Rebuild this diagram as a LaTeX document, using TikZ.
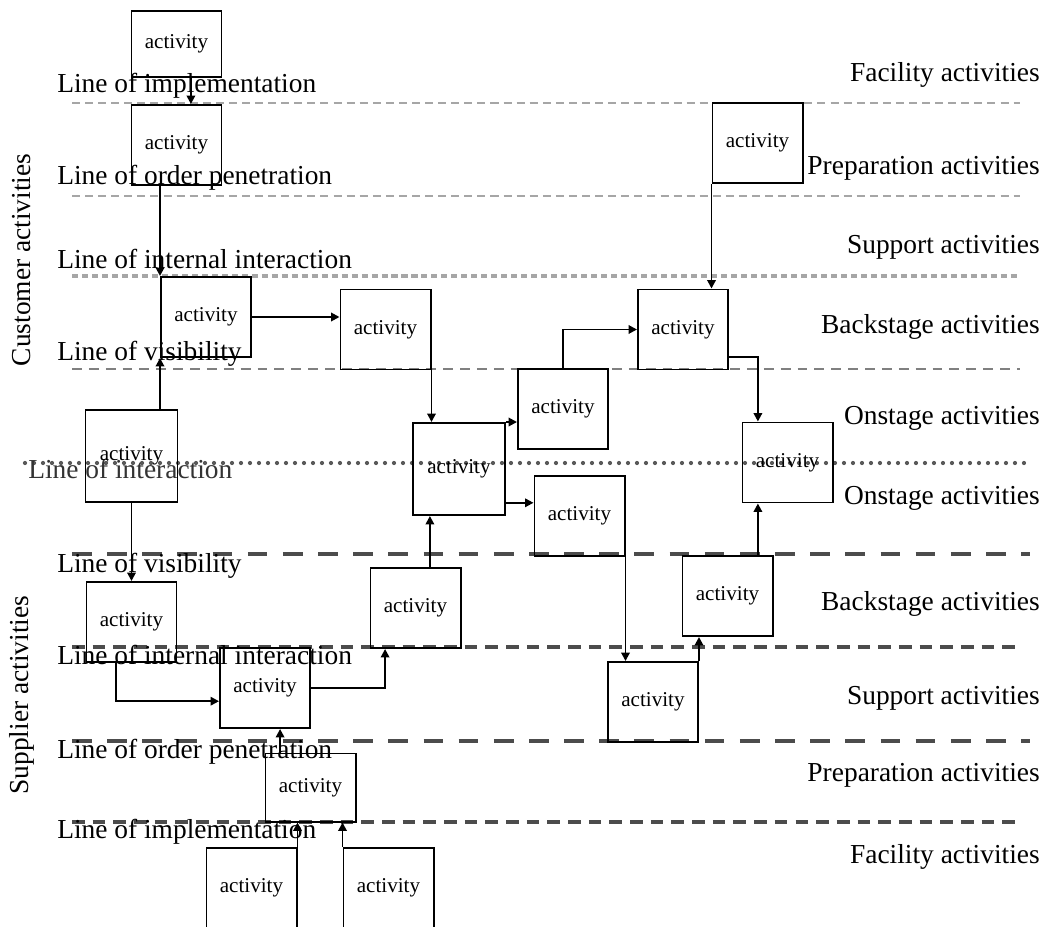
\documentclass[tikz,border=0pt]{standalone}
\usepackage{fontspec}
\setmainfont{Liberation Serif}
\usetikzlibrary{arrows.meta, positioning}

\tikzstyle{activity} = [rectangle,
draw=black,
line width=1.4pt,
minimum width=2.25cm,
minimum height=2cm,
inner sep=0pt,
font=\fontsize{15}{18}\selectfont]
\tikzstyle{lineof} = [anchor=base west,
inner sep=0pt,
font=\fontsize{19.5}{23}\selectfont]
\tikzstyle{layer} = [anchor=base east,
inner sep=0pt,
font=\fontsize{19.5}{23}\selectfont]
\tikzstyle{side} = [rotate=90,
inner sep=0pt,
font=\fontsize{19.5}{23}\selectfont]
\tikzstyle{flow} = [->, line width=1.4pt]
\tikzstyle{lightline} = [draw=black!35, line width=1.6pt, dash pattern=on 5.7pt off 3.6pt]
\tikzstyle{squareline} = [draw=black!35, line width=2.3pt, dash pattern=on 4.3pt off 2.8pt]
\tikzstyle{greyline} = [draw=black!50, line width=1.5pt, dash pattern=on 7pt off 5pt]
\tikzstyle{dotline} = [draw=black!65, line width=3pt, line cap=round, dash pattern=on 0pt off 6.4pt]
\tikzstyle{heavyline} = [draw=black!70, line width=3.3pt, dash pattern=on 14pt off 11pt]
\tikzstyle{mediumline} = [draw=black!70, line width=2.2pt, dash pattern=on 9pt off 5.7pt]

\begin{document}
\begin{tikzpicture}[x=0.025cm, y=-0.025cm,
    >={Triangle[width=6pt,length=6pt]}
    ]
    \useasboundingbox (0,0) rectangle (1044,926);
    \clip (0,0) rectangle (1044,926);

    % separating lines
    \draw[lightline] (72,103) -- (1020,103);
    \draw[lightline] (72,196) -- (1020,196);
    \draw[squareline] (72,276) -- (1020,276);
    \draw[greyline] (72,369) -- (1020,369);
    \draw[dotline] (25,463) -- (1030,463);
    \draw[heavyline] (72,554) -- (1030,554);
    \draw[mediumline] (72,647) -- (1020,647);
    \draw[heavyline] (72,741) -- (1030,741);
    \draw[mediumline] (72,822) -- (1020,822);

    % line names
    \node (limp1) [lineof] at (57,93) {Line of implementation};
    \node (lord1) [lineof] at (57,185) {Line of order penetration};
    \node (lint1) [lineof] at (57,268) {Line of internal interaction};
    \node (lvis1) [lineof] at (57,360) {Line of visibility};
    \node (linter) [lineof, text=black!80] at (28,478) {Line of interaction};
    \node (lvis2) [lineof] at (57,572) {Line of visibility};
    \node (lint2) [lineof] at (57,664) {Line of internal interaction};
    \node (lord2) [lineof] at (57,758) {Line of order penetration};
    \node (limp2) [lineof] at (57,838) {Line of implementation};

    % layer names
    \node (fac1) [layer] at (1040,82) {Facility activities};
    \node (prep1) [layer] at (1040,174) {Preparation activities};
    \node (sup1) [layer] at (1040,253) {Support activities};
    \node (back1) [layer] at (1040,333) {Backstage activities};
    \node (on1) [layer] at (1040,424) {Onstage activities};
    \node (on2) [layer] at (1040,504) {Onstage activities};
    \node (back2) [layer] at (1040,610) {Backstage activities};
    \node (sup2) [layer] at (1040,704) {Support activities};
    \node (prep2) [layer] at (1040,781) {Preparation activities};
    \node (fac2) [layer] at (1040,863) {Facility activities};

    \node (customer) [side] at (22,260) {Customer activities};
    \node (supplier) [side] at (22,695) {Supplier activities};

    % activities
    \node (a1) [activity, minimum height=1.65cm] at (176.5,44) {activity};
    \node (a2) [activity, below=0.65cm of a1] {activity};
    \node (a3) [activity] at (206,317) {activity};
    \node (a4) [activity] at (385.5,329.5) {activity};
    \node (a5) [activity, minimum width=2.3cm, minimum height=2.3cm] at (131.5,456) {activity};
    \node (a6) [activity, minimum width=2.3cm, minimum height=2.3cm] at (459,469) {activity};
    \node (a7) [activity] at (563,409) {activity};
    \node (a8) [activity] at (683,329.5) {activity};
    \node (a9) [activity] at (757.5,143) {activity};
    \node (a10) [activity] at (787.5,462.5) {activity};
    \node (a11) [activity] at (579.5,516) {activity};
    \node (a12) [activity] at (131.5,622) {activity};
    \node (a13) [activity] at (415.5,608) {activity};
    \node (a14) [activity] at (265,688) {activity};
    \node (a15) [activity, minimum height=1.7cm] at (310.5,787.5) {activity};
    \node (a16) [activity] at (251.5,888) {activity};
    \node (a17) [activity, right=1.125cm of a16] {activity};
    \node (a18) [activity] at (653,702) {activity};
    \node (a19) [activity] at (727.5,596) {activity};

    % customer side arrows
    \draw[flow] ([xshift=0.36cm]a1.south) -- ([xshift=0.36cm]a1.south |- a2.north);
    \draw[flow] (a3.north west |- a2.south) -- (a3.north west);
    \draw[flow] (a3.east) -- (a3.east -| a4.west);
    \draw[flow] (a3.south west |- a5.north) -- (a3.south west);
    \draw[flow] (a5.south) -- (a12.north);
    \draw[flow] (a4.south east) -- (a4.south east |- a6.north);
    \draw[flow] (a6.north east) -- (a6.north east -| a7.west);
    \draw[flow] ([yshift=0.33cm]a6.south east) -- ([yshift=0.33cm]a6.south east -| a11.west);
    \draw[flow] (a7.north) |- (a8.west);
    \draw[flow] (a9.south west) -- (a9.south west |- a8.north);
    \draw[flow] ([yshift=-0.69cm]a8.east) -| ([xshift=-0.74cm]a10.north);

    % supplier side arrows
    \draw[flow] ([xshift=-0.39cm]a12.south) |- ([yshift=-0.33cm]a14.west);
    \draw[flow] (a14.east) -| ([xshift=-0.76cm]a13.south);
    \draw[flow] ([xshift=-0.76cm]a15.north) -- ([xshift=-0.76cm]a15.north |- a14.south);
    \draw[flow] (a16.north east) -- (a16.north east |- a15.south);
    \draw[flow] (a17.north west) -- (a17.north west |- a15.south);
    \draw[flow] ([xshift=0.36cm]a13.north) -- ([xshift=0.36cm]a13.north |- a6.south);
    \draw[flow] (a11.south east) -- (a11.south east |- a18.north);
    \draw[flow] (a18.north east) -- (a18.north east |- a19.south);
    \draw[flow] ([xshift=0.76cm]a19.north) -- ([xshift=0.76cm]a19.north |- a10.south);

\end{tikzpicture}
\end{document}
